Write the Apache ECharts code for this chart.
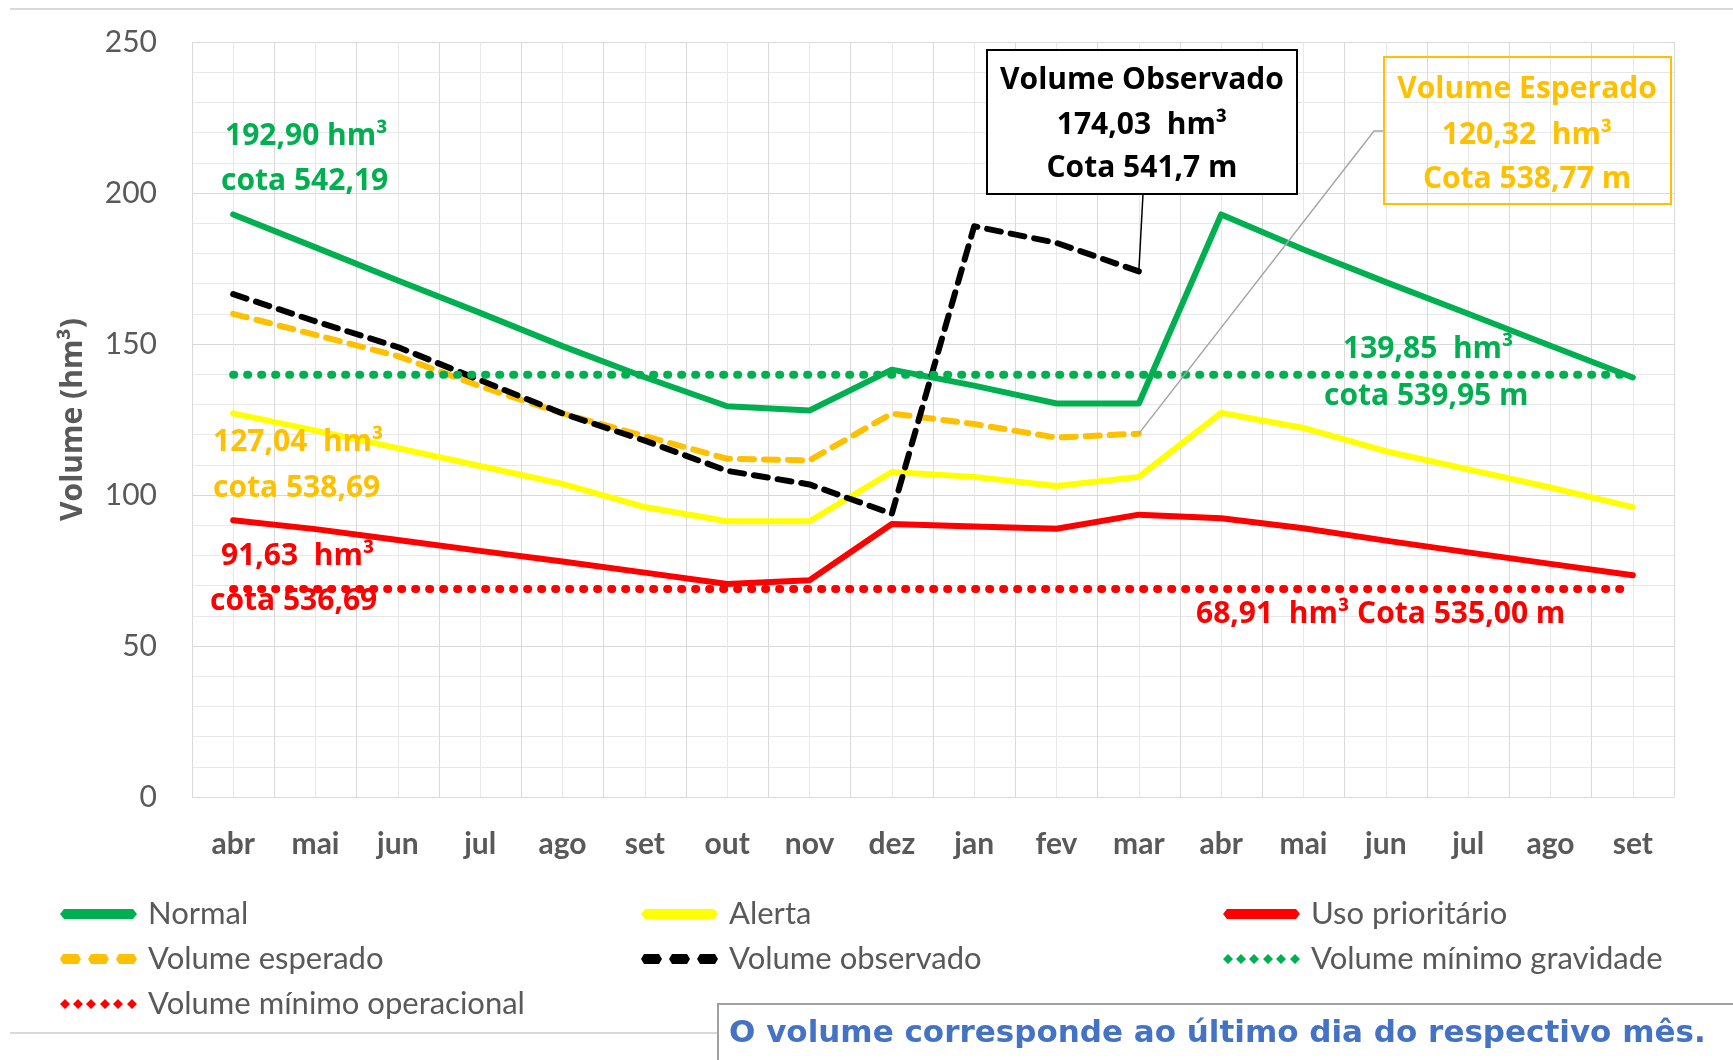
<!DOCTYPE html>
<html><head><meta charset="utf-8">
<script src="https://cdn.jsdelivr.net/npm/echarts@6/dist/echarts.min.js"></script>
<style>html,body{margin:0;padding:0;background:#fff}#c{width:1733px;height:1060px}</style>
</head><body><div id="c"></div>
<script>
// ---- data ----
const months = ['abr','mai','jun','jul','ago','set','out','nov','dez','jan','fev','mar','abr','mai','jun','jul','ago','set'];
const normal = [192.90, 182.0, 171.0, 160.3, 149.3, 139.0, 129.4, 128.0, 141.5, 136.2, 130.3, 130.3, 192.90, 181.3, 170.5, 160.0, 149.4, 138.9];
const alerta = [127.04, 121.3, 115.5, 109.6, 103.7, 96.0, 91.3, 91.3, 107.6, 106.0, 103.0, 106.0, 127.2, 122.2, 114.5, 108.5, 102.5, 96.0];
const usoPrioritario = [91.63, 88.7, 85.1, 81.5, 78.0, 74.3, 70.5, 71.8, 90.4, 89.6, 88.8, 93.5, 92.3, 89.0, 84.9, 81.0, 77.2, 73.4];
const volumeEsperado = [160.0, 153.0, 146.0, 136.0, 127.0, 119.5, 112.0, 111.5, 127.0, 123.5, 119.0, 120.32, null, null, null, null, null, null];
const volumeObservado = [166.5, 157.5, 149.0, 138.0, 127.0, 118.0, 108.0, 103.5, 93.8, 189.0, 183.5, 174.03, null, null, null, null, null, null];
const minGravidade = [139.85, 139.85, 139.85, 139.85, 139.85, 139.85, 139.85, 139.85, 139.85, 139.85, 139.85, 139.85, 139.85, 139.85, 139.85, 139.85, 139.85, 139.85];
const minOperacional = [68.91, 68.91, 68.91, 68.91, 68.91, 68.91, 68.91, 68.91, 68.91, 68.91, 68.91, 68.91, 68.91, 68.91, 68.91, 68.91, 68.91, 68.91];
const yTickInterval = 50;

const GREEN = '#00b050', YELLOW = '#ffff00', RED = '#ff0000', ORANGE = '#ffc000', BLACK = '#000000';
const FONT = 'Lato';
const AFONT = '"Open Sans"';

function line(name, data, color, width, type, z) {
  return {
    name, type: 'line', data, symbol: 'none', color, z: z || 2,
    itemStyle: { color },
    lineStyle: { color, width, type, cap: 'round', join: 'round' },
    emphasis: { disabled: true }, animation: false
  };
}

const ICON_SOLID = 'path://M0,5 L4,0 L73,0 L77,5 L73,10 L4,10 Z';
const ICON_DASH = 'path://M0,5 L3,0 L18,0 L21,5 L18,10 L3,10 Z M28,5 L31,0 L46,0 L49,5 L46,10 L31,10 Z M56,5 L59,0 L74,0 L77,5 L74,10 L59,10 Z';
const ICON_DOT = 'path://M0,5 L5,0 L10,5 L5,10 Z M13,5 L18,0 L23,5 L18,10 Z M26,5 L31,0 L36,5 L31,10 Z M40,5 L45,0 L50,5 L45,10 Z M53,5 L58,0 L63,5 L58,10 Z M67,5 L72,0 L77,5 L72,10 Z';

const legendText = { fontFamily: FONT, fontSize: 31, color: '#595959', lineHeight: 36, padding: [0, 0, 0, 6] };
function legend(left, data) {
  return { left, top: 896, padding: 0, orient: 'vertical', itemWidth: 77, itemHeight: 10, itemGap: 9,
    selectedMode: false, data, textStyle: legendText,
    itemStyle: { borderWidth: 0 } };
}

const chart = echarts.init(document.getElementById('c'));
chart.setOption({
  animation: false,
  backgroundColor: '#ffffff',
  grid: { left: 192, right: 59, top: 42, bottom: 263 },
  legend: [
    legend(60, [{ name: 'Normal', icon: ICON_SOLID }, { name: 'Volume esperado', icon: ICON_DASH }, { name: 'Volume mínimo operacional', icon: ICON_DOT }]),
    legend(641, [{ name: 'Alerta', icon: ICON_SOLID }, { name: 'Volume observado', icon: ICON_DASH }]),
    legend(1223, [{ name: 'Uso prioritário', icon: ICON_SOLID }, { name: 'Volume mínimo gravidade', icon: ICON_DOT }])
  ],
  xAxis: [
    { type: 'category', data: months, boundaryGap: true,
      axisLine: { show: false }, axisTick: { show: false }, splitLine: { show: false },
      axisLabel: { interval: 0, fontFamily: FONT, fontWeight: 'bold', fontSize: 30, color: '#595959', margin: 32 } },
    { type: 'value', min: 0, max: 18, interval: 1, position: 'top',
      axisLabel: { show: false }, axisLine: { show: false }, axisTick: { show: false },
      splitLine: { show: true, lineStyle: { color: '#d9d9d9', width: 1 } },
      minorTick: { show: false, splitNumber: 2 },
      minorSplitLine: { show: true, lineStyle: { color: '#e8e8e8', width: 1 } } }
  ],
  yAxis: {
    type: 'value', min: 0, max: 250, interval: yTickInterval,
    axisLine: { show: false }, axisTick: { show: false },
    axisLabel: { fontFamily: FONT, fontSize: 30, color: '#595959', margin: 35 },
    splitLine: { lineStyle: { color: '#d9d9d9', width: 1 } },
    minorTick: { show: false, splitNumber: 5 },
    minorSplitLine: { show: true, lineStyle: { color: '#e8e8e8', width: 1 } },
    name: 'Volume (hm³)', nameLocation: 'middle', nameGap: 104,
    nameTextStyle: { fontFamily: AFONT, fontWeight: 'bold', fontSize: 30, color: '#595959' }
  },
  series: [
    line('Normal', normal, GREEN, 6, 'solid', 3),
    line('Alerta', alerta, YELLOW, 6, 'solid', 3),
    line('Uso prioritário', usoPrioritario, RED, 6, 'solid', 3),
    line('Volume esperado', volumeEsperado, ORANGE, 6, [14, 10], 4),
    line('Volume observado', volumeObservado, BLACK, 6, [14, 10], 5),
    line('Volume mínimo gravidade', minGravidade, GREEN, 8, [1, 13], 6),
    line('Volume mínimo operacional', minOperacional, RED, 8, [1, 13], 6)
  ]
});

// ---- annotations ----
const pObs = chart.convertToPixel({ xAxisIndex: 0, yAxisIndex: 0 }, [11, volumeObservado[11]]);
const pEsp = chart.convertToPixel({ xAxisIndex: 0, yAxisIndex: 0 }, [11, volumeEsperado[11]]);

function txt(x, y, text, color, size, align, family) {
  return { type: 'text', x, y, z: 100, style: {
    text, fill: color, font: 'bold ' + (size || 30) + 'px ' + (family || AFONT),
    textAlign: align || 'left', textVerticalAlign: 'middle' } };
}

chart.setOption({
  graphic: [
    { type: 'line', z: 50, shape: { x1: 10, y1: 9, x2: 1733, y2: 9 }, style: { stroke: '#d9d9d9', lineWidth: 2 } },
    { type: 'line', z: 50, shape: { x1: 10, y1: 1033, x2: 718, y2: 1033 }, style: { stroke: '#d9d9d9', lineWidth: 2 } },
    txt(225, 136, '192,90 hm³', GREEN, 30),
    txt(221, 181, 'cota 542,19', GREEN, 30),
    txt(213, 442, '127,04  hm³', ORANGE, 30),
    txt(213, 488, 'cota 538,69', ORANGE, 30),
    txt(221, 556, '91,63  hm³', RED, 30),
    txt(210, 601, 'cota 536,69', RED, 30),
    txt(1343, 349, '139,85  hm³', GREEN, 30),
    txt(1324, 396, 'cota 539,95 m', GREEN, 30),
    txt(1196, 614, '68,91  hm³ Cota 535,00 m', RED, 30),
    { type: 'line', z: 90, shape: { x1: 1143, y1: 194, x2: pObs[0], y2: pObs[1] }, style: { stroke: '#000', lineWidth: 1.5 } },
    { type: 'rect', z: 95, shape: { x: 987, y: 50, width: 310, height: 144 }, style: { fill: '#fff', stroke: '#000', lineWidth: 2 } },
    txt(1142, 80, 'Volume Observado', BLACK, 30, 'center'),
    txt(1142, 125, '174,03  hm³', BLACK, 30, 'center'),
    txt(1142, 168, 'Cota 541,7 m', BLACK, 30, 'center'),
    { type: 'polyline', z: 90, shape: { points: [[1384, 131], [1374, 131], [pEsp[0], pEsp[1]]] }, style: { fill: null, stroke: '#a6a6a6', lineWidth: 1.5 } },
    { type: 'rect', z: 95, shape: { x: 1384, y: 57, width: 287, height: 147 }, style: { fill: null, stroke: ORANGE, lineWidth: 2 } },
    txt(1527, 89, 'Volume Esperado', ORANGE, 30, 'center'),
    txt(1527, 135, '120,32  hm³', ORANGE, 30, 'center'),
    txt(1527, 179, 'Cota 538,77 m', ORANGE, 30, 'center'),
    { type: 'rect', z: 95, shape: { x: 718, y: 1004, width: 1030, height: 70 }, style: { fill: '#fff', stroke: '#a0a0a0', lineWidth: 2 } },
    txt(729, 1034, 'O volume corresponde ao último dia do respectivo mês.', '#4472c4', 31, 'left', '"DejaVu Sans"')
  ]
});
</script></body></html>
